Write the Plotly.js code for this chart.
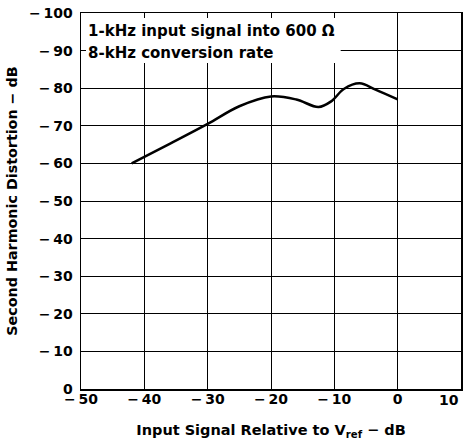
<!DOCTYPE html>
<html>
<head>
<meta charset="utf-8">
<script src="https://cdn.plot.ly/plotly-3.0.1.min.js"></script>
<style>html,body{margin:0;padding:0;background:#fff;}</style>
</head>
<body>
<div id="chart" style="width:469px;height:444px;"></div>
<script>
// Input signal relative to Vref (dB)
const inputSignal = [-42, -36, -30, -25, -20, -16, -12.5, -10.5, -8.5, -6, -3.5, 0];
// Second harmonic distortion magnitude (dB, plotted as negative values)
const distortion = [60, 65.2, 70.5, 75.2, 77.8, 77, 75, 76.5, 79.8, 81.3, 79.6, 77];

const xTickVals = [-50, -40, -30, -20, -10, 0, 10];
const xTickText = ['\u2212\u200950', '\u2212\u200940', '\u2212\u200930', '\u2212\u200920', '\u2212\u200910', '0', '10'];
const yTickVals = [0, 10, 20, 30, 40, 50, 60, 70, 80, 90, 100];
const yTickText = ['0', '\u2212\u200910', '\u2212\u200920', '\u2212\u200930', '\u2212\u200940', '\u2212\u200950',
  '\u2212\u200960', '\u2212\u200970', '\u2212\u200980', '\u2212\u200990', '\u2212\u2009100'];
const noteLines = ['1-kHz input signal into 600 \u03A9', '8-kHz conversion rate'];

const FONT = 'DejaVu Sans, Liberation Sans, Arial, sans-serif';
const TICKFONT = {family: FONT, size: 14, color: '#000', weight: 'bold'};

const trace = {
  x: inputSignal,
  y: distortion,
  type: 'scatter',
  mode: 'lines',
  line: {color: '#000', width: 2.5, shape: 'spline', smoothing: 1},
  hoverinfo: 'skip'
};

const axisCommon = {
  showgrid: true,
  gridcolor: '#000',
  gridwidth: 1,
  showline: true,
  linecolor: '#000',
  linewidth: 1.5,
  mirror: 'ticks',
  ticks: 'inside',
  ticklen: 5,
  tickcolor: '#000',
  tickwidth: 1,
  zeroline: false,
  tickmode: 'array',
  tickfont: TICKFONT
};

// last x tick label sits flush with the right edge (as in the reference), drawn as an annotation
const lastX = xTickVals[xTickVals.length - 1];
const lastXText = xTickText[xTickText.length - 1];
const shownXText = xTickText.slice(0, -1).concat(['']);

const layout = {
  width: 469,
  height: 444,
  margin: {l: 81, r: 8, t: 13, b: 55},
  paper_bgcolor: '#fff',
  plot_bgcolor: '#fff',
  showlegend: false,
  font: {family: FONT, color: '#000'},
  xaxis: Object.assign({}, axisCommon, {
    range: [-50, 10],
    tickvals: xTickVals,
    ticktext: shownXText,
    ticklabelstandoff: -3,
    title: {text: 'Input Signal Relative to V<sub>ref</sub> \u2212 dB', font: {family: FONT, size: 14.5, color: '#000', weight: 'bold'}, standoff: 18}
  }),
  yaxis: Object.assign({}, axisCommon, {
    range: [0, 100],
    tickvals: yTickVals,
    ticktext: yTickText,
    ticklabelstandoff: 4,
    title: {text: 'Second Harmonic Distortion \u2212 dB', font: {family: FONT, size: 14.3, color: '#000', weight: 'bold'}, standoff: 8}
  }),
  shapes: [{
    type: 'rect', xref: 'x', yref: 'y', layer: 'between',
    x0: -50, x1: -9, y0: 86.7, y1: 100,
    fillcolor: '#fff', line: {width: 0}
  }],
  annotations: [
    {xref: 'paper', yref: 'y', x: 0.012, y: 95.2, xanchor: 'left', yanchor: 'middle', showarrow: false,
     text: noteLines[0], font: {family: FONT, size: 15, color: '#000', weight: 'bold'}},
    {xref: 'paper', yref: 'y', x: 0.012, y: 89.3, xanchor: 'left', yanchor: 'middle', showarrow: false,
     text: noteLines[1], font: {family: FONT, size: 15, color: '#000', weight: 'bold'}},
    {xref: 'x', yref: 'paper', x: lastX, y: 0, xanchor: 'right', yanchor: 'top', showarrow: false,
     xshift: 0, yshift: -1, text: lastXText, font: TICKFONT}
  ]
};

Plotly.newPlot('chart', [trace], layout, {staticPlot: true, displayModeBar: false});
</script>
</body>
</html>
